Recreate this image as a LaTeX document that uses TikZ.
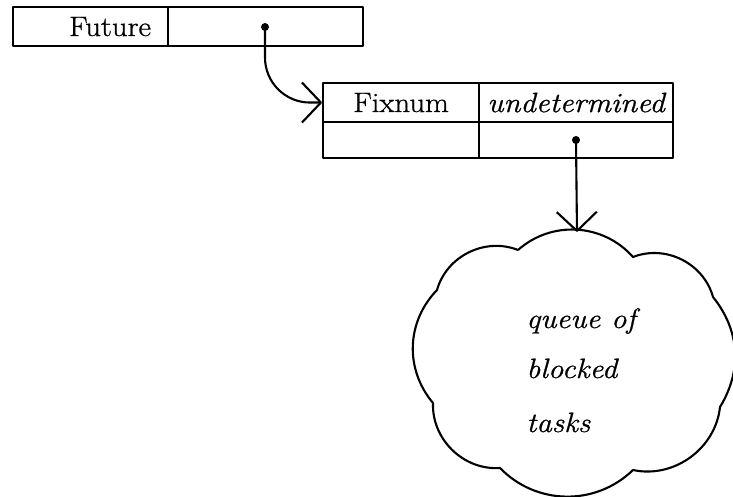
\documentclass[tikz,border=0pt]{standalone}
\usepackage{fontspec}
\usetikzlibrary{arrows.meta}
% a slightly heavier, wider cut of Latin Modern for the labels
\newfontfamily\diagfont{Latin Modern Roman}[FakeBold=0.8, FakeStretch=1.1]
\begin{document}
\begin{tikzpicture}[x=1pt, y=-1pt, line width=2.1pt, line join=round,
  every node/.style={font=\diagfont\fontsize{28}{34}\selectfont},
  cell/.style={draw, rectangle, inner sep=0pt, anchor=north west},
  ital/.style={font=\diagfont\fontsize{28}{34}\selectfont\itshape},
  dot/.style={circle, fill, inner sep=0pt, minimum size=8pt},
  ptr/.style={-{Straight Barb[length=19pt, width=40pt, line join=round]}, line cap=round},
  cloudtext/.style={anchor=base west, ital}]
\useasboundingbox (0,0) rectangle (733,497);

% the future object: tag cell and value cell
\node[cell, minimum width=155pt, minimum height=39pt, text width=121pt,
      align=right, inner xsep=17pt] (futtag) at (12,6) {Future};
\node[cell, minimum width=195pt, minimum height=39pt] (futval) at (167,6) {};

% the fixnum object, still undetermined
\node[cell, minimum width=156pt, minimum height=39pt] (fixtag) at (322,82) {Fixnum};
\node[cell, minimum width=194pt, minimum height=39pt, ital] (fixstate) at (478,82) {undetermined};
\node[cell, minimum width=156pt, minimum height=36pt] (fixlow) at (322,121) {};
\node[cell, minimum width=194pt, minimum height=36pt] (fixval) at (478,121) {};

% pointer origins
\node[dot] (ptrA) at (265,27) {};
\node[dot] (ptrB) at (576,140) {};

% the cloud holding the waiting tasks
\coordinate (cloudtop) at (577,232);
\draw (518,250) to[bend left=45] (633,257) to[bend left=48] (713,297)
      to[bend left=35] (720,407) to[bend left=48] (633,470)
      to[bend left=45] (500,468) to[bend left=48] (433,403)
      to[bend left=42] (437,290) to[bend left=48] (518,250);
\node[cloudtext] (q1) at (522,328) {queue of};
\node[cloudtext] (q2) at (522,378) {blocked};
\node[cloudtext] (q3) at (522,432) {tasks};

% pointers
\draw[ptr, rounded corners=45pt] (ptrA.center) |- (fixtag.west);
\draw[ptr] (ptrB.center) -- (cloudtop);
\end{tikzpicture}
\end{document}
